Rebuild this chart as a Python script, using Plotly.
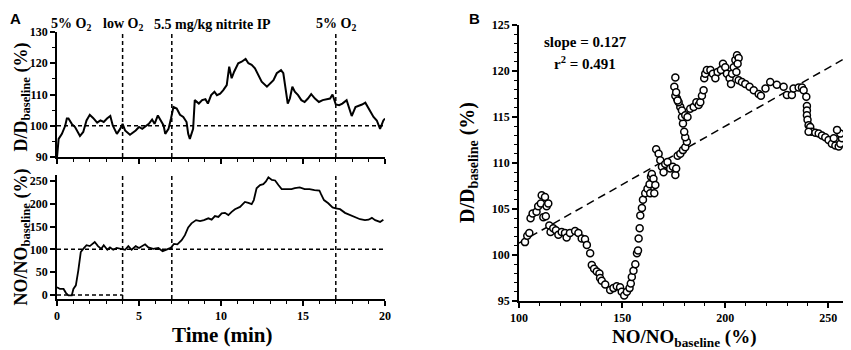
import plotly.graph_objects as go

# ---------------- data ----------------
# Panel A (top): D/D_baseline (%) vs time (min)
t_D = [0, 0.1, 0.3, 0.5, 0.6, 0.7, 0.9, 1.1, 1.4, 1.6, 1.8, 2.0, 2.2, 2.45, 2.65, 2.85, 3.05, 3.25,
       3.4, 3.65, 3.85, 4.0, 4.15, 4.45, 4.8, 5.0, 5.2, 5.4, 5.6, 5.8, 5.95, 6.15, 6.3, 6.5, 6.6,
       6.8, 6.95, 7.1, 7.3, 7.5, 7.7, 7.9, 8.0, 8.1, 8.3, 8.4, 8.65, 8.85, 9.05, 9.2, 9.4, 9.6,
       9.75, 9.95, 10.14, 10.35, 10.5, 10.65, 10.8, 11.05, 11.26, 11.5, 11.67, 11.87, 12.07,
       12.28, 12.48, 12.8, 13.0, 13.2, 13.4, 13.66, 13.8, 13.95, 14.07, 14.2, 14.35, 14.5, 14.7,
       14.9, 15.1, 15.3, 15.5, 15.73, 15.97, 16.2, 16.45, 16.65, 16.8, 17.0, 17.2, 17.4, 17.66,
       17.8, 17.97, 18.2, 18.4, 18.6, 18.8, 19.0, 19.3, 19.5, 19.7, 19.9, 20.0]
D_pct = [89.9, 95.8, 97.4, 100.0, 102.3, 102.3, 100.6, 99.6, 96.7, 98.0, 101.7, 103.5, 102.5, 101.0,
         101.7, 101.2, 102.3, 103.1, 100.1, 97.4, 99.0, 100.6, 98.5, 97.1, 98.5, 99.6, 99.0, 99.9,
         100.6, 102.0, 100.6, 103.3, 101.7, 100.1, 97.4, 99.0, 102.3, 106.0, 105.5, 103.5, 102.8,
         101.2, 97.4, 95.8, 99.0, 108.2, 107.1, 108.2, 108.5, 107.1, 109.8, 110.9, 109.8, 110.3,
         111.4, 113.0, 118.9, 115.2, 117.3, 120.0, 120.5, 121.4, 120.0, 119.5, 118.4, 116.2, 114.1,
         112.5, 113.5, 114.6, 116.8, 117.8, 116.8, 110.9, 107.1, 108.7, 112.5, 110.9, 109.8, 108.2,
         107.6, 108.7, 110.1, 108.7, 107.6, 108.2, 108.5, 108.7, 110.0, 106.8, 106.6, 107.1, 108.2,
         106.0, 103.1, 106.0, 106.3, 106.8, 107.4, 105.5, 102.8, 101.7, 99.0, 101.7, 102.3]

# Panel A (bottom): NO/NO_baseline (%) vs time (min)
t_NO = [0, 0.18, 0.4, 0.55, 0.7, 0.9, 1.0, 1.15, 1.3, 1.45, 1.6, 1.8, 2.0, 2.3, 2.5, 2.7, 2.85,
        3.07, 3.23, 3.43, 3.64, 3.94, 4.15, 4.35, 4.55, 4.8, 5.0, 5.37, 5.57, 5.87, 6.18, 6.44,
        6.69, 6.93, 7.13, 7.34, 7.6, 7.8, 8.0, 8.2, 8.48, 8.72, 8.96, 9.23, 9.43, 9.63, 9.84,
        10.04, 10.24, 10.45, 10.65, 10.85, 11.16, 11.46, 11.67, 11.87, 12.0, 12.17, 12.38, 12.58,
        12.74, 12.89, 13.1, 13.3, 13.5, 13.7, 14.0, 14.3, 14.5, 14.8, 15.1, 15.4, 15.7, 16.0,
        16.1, 16.28, 16.54, 16.8, 17.0, 17.26, 17.56, 17.87, 18.17, 18.48, 18.78, 19.0, 19.2,
        19.4, 19.7, 19.9]
NO_pct = [17, 13, 13, 4, -1, -1, 13, 21, 54, 94, 101, 109, 107, 116, 107, 101, 109, 99, 104, 99,
          103, 101, 99, 107, 99, 107, 103, 111, 104, 101, 103, 96, 99, 103, 112, 111, 120, 131, 148,
          157, 164, 162, 164, 168, 165, 173, 171, 179, 180, 175, 182, 188, 193, 204, 202, 199, 208,
          234, 241, 243, 249, 258, 252, 251, 241, 232, 232, 232, 234, 236, 232, 232, 230, 229, 221,
          208, 201, 192, 190, 188, 180, 175, 170, 166, 164, 165, 169, 164, 160, 165]

# Panel B: scatter D/D_baseline vs NO/NO_baseline
NO_s = [102.9, 104.0, 105.0, 105.6, 106.6, 108.5, 109.3, 110.6, 111.0, 112.6, 113.4, 114.2, 111.8,
        113.0, 114.7, 115.3, 116.6, 117.9, 119.1, 120.7, 122.3, 123.1, 124.7, 127.2, 128.8, 130.4,
        132.0, 132.9, 134.5, 135.3, 136.4, 137.7, 139.0, 139.3, 140.1, 141.8, 144.2, 145.8, 147.4,
        149.0, 149.8, 151.0, 152.3, 153.6, 154.2, 154.7, 155.5, 156.4, 157.2, 157.7, 158.0, 158.5,
        158.8, 159.6, 160.1, 161.2, 162.3, 163.3, 164.0, 164.4, 165.2, 166.1, 163.6, 165.6, 166.5,
        167.7, 168.5, 169.3, 170.1, 170.9, 172.0, 173.3, 174.6, 175.8, 176.2, 176.9, 178.2, 179.5,
        180.6, 181.4, 180.6, 180.1, 179.5, 179.0, 178.2, 177.4, 176.6, 175.8, 175.3, 175.8, 176.2,
        176.9, 179.0, 180.6, 181.7, 183.0, 184.7, 186.0, 187.1, 187.9, 188.7, 189.5, 189.8, 190.3,
        191.1, 192.8, 194.0, 195.2, 196.3, 197.9, 198.9, 200.0, 200.8, 202.1, 202.8, 203.3, 204.1,
        204.9, 205.7, 206.5, 206.0, 205.4, 206.5, 208.1, 209.7, 211.8, 213.8, 216.2, 217.3, 219.5,
        221.8, 225.0, 228.3, 229.9, 232.3, 233.1, 235.6, 237.2, 238.0, 239.3, 239.6, 239.6, 239.6,
        239.9, 240.4, 241.2, 242.0, 240.4, 243.7, 245.3, 246.9, 248.5, 250.1, 251.7, 253.4, 255.0,
        255.8, 256.6, 255.8, 254.2, 252.6]
D_s = [101.4, 102.1, 102.4, 104.0, 104.5, 104.7, 105.3, 105.6, 106.5, 106.3, 105.3, 105.6, 104.1,
       104.2, 103.2, 102.5, 102.9, 102.7, 102.2, 102.5, 102.4, 101.9, 102.4, 102.6, 102.4, 101.8,
       101.7, 101.1, 100.2, 98.9, 98.5, 98.2, 98.0, 97.5, 97.2, 96.8, 96.2, 96.4, 96.6, 96.5, 96.0,
       95.6, 96.0, 96.4, 96.9, 97.6, 98.3, 99.0, 100.2, 100.5, 101.8, 102.9, 104.3, 105.1, 106.0,
       106.7, 107.2, 107.7, 108.5, 108.8, 108.3, 107.6, 106.7, 106.7, 111.5, 111.0, 110.3, 109.6,
       109.0, 109.9, 110.1, 109.4, 109.6, 108.7, 109.4, 110.8, 111.0, 111.4, 111.7, 112.3, 112.8,
       113.4, 114.3, 115.0, 116.1, 116.6, 117.0, 117.3, 118.3, 119.3, 117.7, 116.8, 115.7, 115.2,
       115.0, 115.9, 116.1, 116.6, 116.3, 116.6, 117.3, 117.9, 119.2, 119.7, 120.1, 120.1, 119.7,
       119.2, 119.9, 120.1, 120.8, 120.4, 119.7, 119.2, 118.6, 119.7, 120.4, 121.2, 121.7, 121.4,
       120.8, 119.9, 119.0, 118.8, 118.6, 118.3, 117.9, 117.5, 117.3, 118.1, 118.8, 118.5, 118.3,
       117.4, 117.4, 118.1, 118.2, 118.2, 117.9, 117.2, 116.2, 115.7, 115.2, 114.7, 114.1, 113.9,
       113.4, 113.4, 113.3, 113.2, 113.0, 112.8, 112.5, 112.1, 111.9, 111.8, 112.1, 112.7, 113.2,
       113.6, 112.7]

fit_slope = 0.127
fit_intercept = 88.6
fit_x = [100, 260]

x_ticks_time = [0, 5, 10, 15, 20]
event_times = [4, 7, 17]
event_labels = ["5% O<sub>2</sub>", "low O<sub>2</sub>", "5.5 mg/kg nitrite IP", "5% O<sub>2</sub>"]
event_label_x = [0.85, 4.0, 9.5, 17.0]

# ---------------- figure ----------------
# The page body has an 8 px default margin, so the figure is 8 px smaller and
# reference pixel positions are converted with that offset.
SERIF = "Liberation Serif"
OFF = 8
W, H = 851 - OFF, 350 - OFF

def py(p):
    return 1 - (p - OFF) / H

def px(p):
    return (p - OFF) / W

fig = go.Figure()

fig.add_trace(go.Scatter(x=t_D, y=D_pct, mode="lines", line=dict(color="black", width=2),
                         xaxis="x", yaxis="y", showlegend=False))
fig.add_trace(go.Scatter(x=t_NO, y=NO_pct, mode="lines", line=dict(color="black", width=1.8),
                         xaxis="x2", yaxis="y2", showlegend=False))
fit_y = [fit_slope * x + fit_intercept for x in fit_x]
fig.add_trace(go.Scatter(x=fit_x, y=fit_y, mode="lines",
                         line=dict(color="black", width=1.5, dash="8px,5px"),
                         xaxis="x3", yaxis="y3", showlegend=False))
fig.add_trace(go.Scatter(x=NO_s, y=D_s, mode="markers",
                         marker=dict(symbol="circle", size=7, color="white",
                                     line=dict(color="black", width=1.5)),
                         xaxis="x3", yaxis="y3", showlegend=False, cliponaxis=False))

tickfont = dict(family=SERIF, size=12, color="black", weight="bold")
axis_common = dict(showline=True, linecolor="black", linewidth=1.5, ticks="outside",
                   ticklen=5, tickwidth=1.5, tickcolor="black", showgrid=False,
                   zeroline=False, tickfont=tickfont, mirror=False, automargin=False)

fig.update_layout(
    width=W, height=H, margin=dict(l=0, r=0, t=0, b=0, pad=0),
    paper_bgcolor="white", plot_bgcolor="white",
    xaxis=dict(domain=[px(57), px(385)], range=[0, 20], anchor="y", tickvals=x_ticks_time,
               showticklabels=False,
               minor=dict(ticks="outside", ticklen=3, tickwidth=1.2, dtick=1, tickcolor="black"),
               **axis_common),
    yaxis=dict(domain=[py(157), py(32)], range=[90, 130], anchor="x", dtick=10,
               minor=dict(ticks="outside", ticklen=3, tickwidth=1.2, dtick=5, tickcolor="black"),
               **axis_common),
    xaxis2=dict(domain=[px(57), px(385)], range=[0, 20], anchor="y2", tickvals=x_ticks_time,
                minor=dict(ticks="outside", ticklen=3, tickwidth=1.2, dtick=1, tickcolor="black"),
                **axis_common),
    yaxis2=dict(domain=[py(299), py(175)], range=[-9, 263], anchor="x2", dtick=50,
                **axis_common),
    xaxis3=dict(domain=[px(519), px(849)], range=[100, 260], anchor="y3", dtick=50,
                minor=dict(ticks="outside", ticklen=3, tickwidth=1.2, dtick=10, tickcolor="black"),
                **axis_common),
    yaxis3=dict(domain=[py(301), py(25)], range=[95, 125], anchor="x3", dtick=5,
                minor=dict(ticks="outside", ticklen=3, tickwidth=1.2, dtick=1, tickcolor="black"),
                **axis_common),
)

dash_line = dict(color="black", width=1.5, dash="4px,3px")
shapes = []
for t in event_times:
    shapes.append(dict(type="line", xref="x", yref="y", x0=t, x1=t, y0=90, y1=130, line=dash_line))
    shapes.append(dict(type="line", xref="x2", yref="y2", x0=t, x1=t, y0=-9, y1=263, line=dash_line))
shapes.append(dict(type="line", xref="x", yref="y", x0=0, x1=20, y0=100, y1=100, line=dash_line))
shapes.append(dict(type="line", xref="x2", yref="y2", x0=0, x1=20, y0=100, y1=100, line=dash_line))
shapes.append(dict(type="line", xref="x2", yref="y2", x0=0, x1=4, y0=0, y1=0, line=dash_line))
fig.update_layout(shapes=shapes)

ann = []
lab_font = dict(family=SERIF, size=14, color="black", weight="bold")
for lx, lt in zip(event_label_x, event_labels):
    ann.append(dict(x=lx, y=py(25), xref="x", yref="paper", text=lt, showarrow=False,
                    font=lab_font, xanchor="center", yanchor="middle"))

title_font = dict(family=SERIF, size=18, color="black", weight="bold")
ann.append(dict(x=0.0, y=py(97), xref="paper", yref="paper",
                text="D/D<sub>baseline</sub> (%)", textangle=-90, showarrow=False,
                font=title_font, xanchor="left", yanchor="middle"))
ann.append(dict(x=0.0, y=py(237), xref="paper", yref="paper",
                text="NO/NO<sub>baseline</sub> (%)", textangle=-90, showarrow=False,
                font=title_font, xanchor="left", yanchor="middle"))
ann.append(dict(x=px(222), y=py(335), xref="paper", yref="paper",
                text="Time (min)", showarrow=False,
                font=dict(family=SERIF, size=21, color="black", weight="bold"),
                xanchor="center", yanchor="middle"))
ann.append(dict(x=px(468), y=py(163), xref="paper", yref="paper",
                text="D/D<sub>baseline</sub> (%)", textangle=-90, showarrow=False,
                font=dict(family=SERIF, size=20, color="black", weight="bold"),
                xanchor="center", yanchor="middle"))
ann.append(dict(x=px(684), y=py(324), xref="paper", yref="paper",
                text="NO/NO<sub>baseline</sub> (%)", showarrow=False,
                font=dict(family=SERIF, size=19, color="black", weight="bold"),
                xanchor="center", yanchor="top"))
ann.append(dict(x=px(585), y=py(42), xref="paper", yref="paper",
                text="slope = 0.127", showarrow=False,
                font=dict(family=SERIF, size=15, color="black", weight="bold"),
                xanchor="center", yanchor="middle"))
ann.append(dict(x=px(585), y=py(63), xref="paper", yref="paper",
                text="r<sup>2</sup> = 0.491", showarrow=False,
                font=dict(family=SERIF, size=15, color="black", weight="bold"),
                xanchor="center", yanchor="middle"))
panel_font = dict(family="Liberation Sans", size=15, color="black", weight="bold")
ann.append(dict(x=0.0, y=1.0, xref="paper", yref="paper", text="A", showarrow=False,
                font=panel_font, xanchor="left", yanchor="top"))
ann.append(dict(x=px(474), y=1.0, xref="paper", yref="paper", text="B", showarrow=False,
                font=panel_font, xanchor="center", yanchor="top"))
fig.update_layout(annotations=ann)

fig.write_html("out.html")
